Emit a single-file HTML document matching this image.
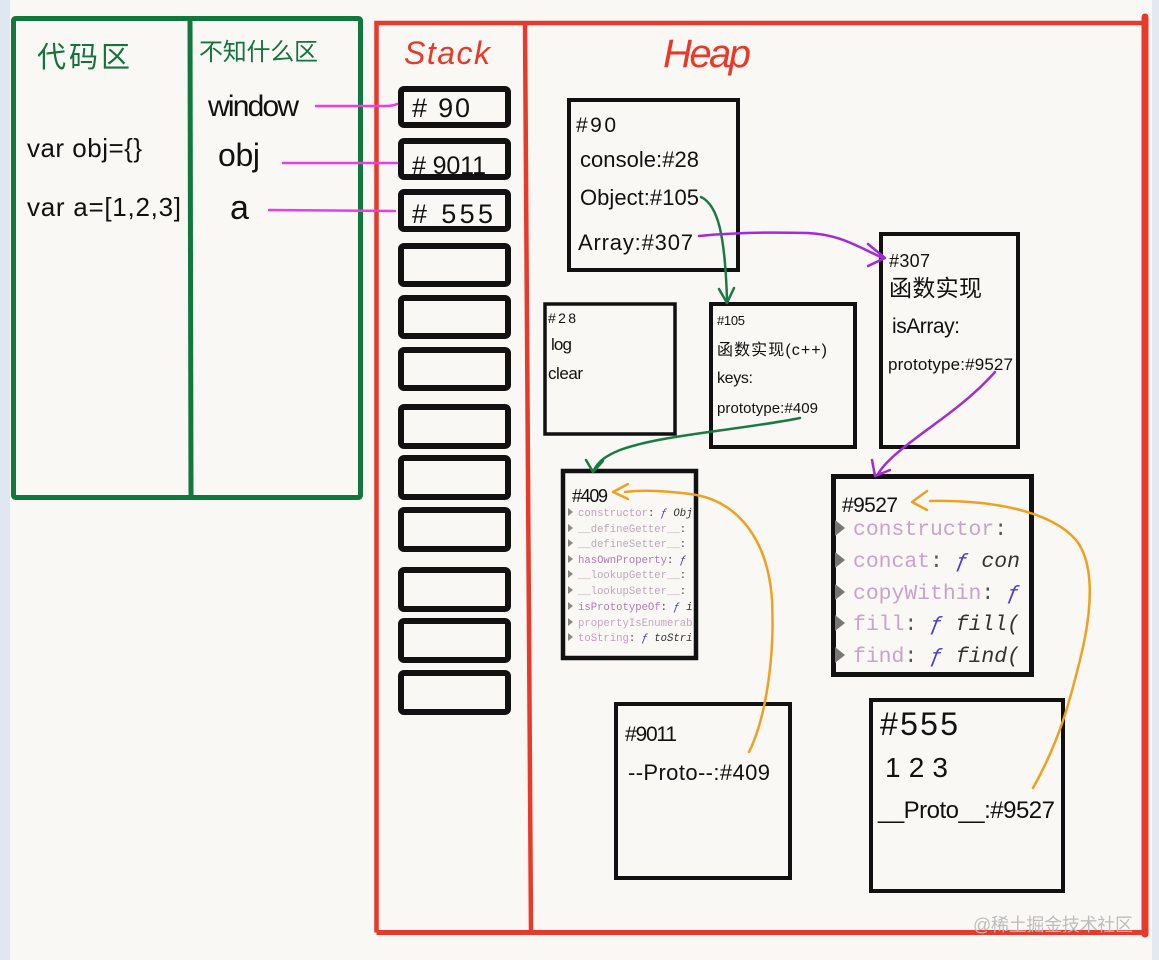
<!DOCTYPE html>
<html><head><meta charset="utf-8">
<style>
html,body{margin:0;padding:0;background:#f9f8f4;}
svg{display:block;}
text{font-family:"Liberation Sans","Noto Sans CJK SC",sans-serif;fill:#111;}
.m{font-family:"Liberation Mono","DejaVu Sans Mono",monospace;}
.cj{font-family:"Noto Sans CJK SC","WenQuanYi Zen Hei",sans-serif;}
</style></head><body>
<svg width="1159" height="960" viewBox="0 0 1159 960" xmlns="http://www.w3.org/2000/svg">
<defs>
<clipPath id="c409"><rect x="566" y="474" width="128" height="182"/></clipPath>
<clipPath id="c9527"><rect x="836" y="479" width="194" height="194"/></clipPath>
</defs>
<rect width="1159" height="960" fill="#f9f8f4"/>
<rect x="0" y="0" width="10" height="960" fill="#dfe7f0"/>
<rect x="1152" y="0" width="7" height="960" fill="#e3e9f0"/>

<!-- green frame -->
<g fill="none" stroke="#10773d" stroke-width="5">
<rect x="13.5" y="18.5" width="347" height="479" rx="2"/>
<line x1="190" y1="18" x2="191" y2="498"/>
</g>
<text x="37" y="67" font-size="29" textLength="93" style="fill:#14733c" class="cj">代码区</text>
<text x="199" y="60" font-size="24" textLength="119" style="fill:#14733c" class="cj">不知什么区</text>
<text x="27" y="157" font-size="26" textLength="115">var obj={}</text>
<text x="27" y="216" font-size="26" textLength="154">var a=[1,2,3]</text>
<text x="208" y="116" font-size="30" textLength="91">window</text>
<text x="218" y="166" font-size="32" textLength="42">obj</text>
<text x="230" y="219" font-size="34" textLength="23">a</text>

<!-- red frame -->
<g fill="none" stroke="#e8392a">
<path d="M376.5,932.5 L376.5,23 L1145,23" stroke-width="4.5"/>
<path d="M376.5,932.5 L1145,932.5" stroke-width="5"/>
<line x1="1145" y1="17" x2="1145" y2="934" stroke-width="7" stroke-linecap="round"/>
<line x1="525" y1="23" x2="531" y2="932" stroke-width="4.5"/>
</g>
<text x="404" y="64" font-size="32" textLength="86" font-style="italic" style="fill:#e8392a">Stack</text>
<text x="663" y="67" font-size="40" textLength="88" font-style="italic" style="fill:#e8392a">Heap</text>

<!-- stack boxes -->
<g fill="none" stroke="#111" stroke-width="6">
<rect x="401" y="89" width="107" height="36" rx="3"/>
<rect x="401" y="141" width="107" height="36" rx="3"/>
<rect x="401" y="192" width="107" height="37" rx="3"/>
<rect x="401" y="246" width="107" height="38" rx="3"/>
<rect x="401" y="298" width="107" height="38" rx="3"/>
<rect x="401" y="350" width="107" height="38" rx="3"/>
<rect x="401" y="407" width="107" height="39" rx="3"/>
<rect x="401" y="458" width="107" height="39" rx="3"/>
<rect x="401" y="510" width="107" height="39" rx="3"/>
<rect x="401" y="570" width="107" height="39" rx="3"/>
<rect x="401" y="621" width="107" height="39" rx="3"/>
<rect x="401" y="673" width="107" height="39" rx="3"/>
</g>
<text x="412" y="117" font-size="27" textLength="58"># 90</text>
<text x="412" y="174" font-size="25" textLength="74"># 9011</text>
<text x="412" y="223" font-size="27" textLength="81"># 555</text>

<!-- magenta connectors -->
<g fill="none" stroke="#ec3ee0" stroke-width="2.5" stroke-linecap="round">
<path d="M316,106 L385,106 Q393,106 397,104"/>
<path d="M283,163 L397,163"/>
<path d="M269,210 L395,211"/>
</g>

<!-- heap boxes -->
<g fill="none" stroke="#111" stroke-width="4">
<rect x="569" y="100" width="169" height="170"/>
<rect x="545" y="304" width="130" height="130" stroke-width="3.5"/>
<rect x="711" y="304" width="144" height="143"/>
<rect x="881" y="234" width="137" height="213"/>
<rect x="563" y="471" width="133" height="187" stroke-width="4.5"/>
<rect x="833.5" y="476.5" width="198" height="198" stroke-width="5"/>
<rect x="616" y="704" width="174" height="174"/>
<rect x="871" y="700" width="192" height="191"/>
</g>

<!-- #90 -->
<text x="576" y="132" font-size="21" textLength="40">#90</text>
<text x="580" y="167" font-size="22" textLength="119">console:#28</text>
<text x="580" y="205" font-size="22" textLength="119">Object:#105</text>
<text x="578" y="250" font-size="22" textLength="115">Array:#307</text>

<!-- #307 -->
<text x="889" y="267" font-size="18" textLength="41">#307</text>
<text x="889" y="296" font-size="23" textLength="93" class="cj">函数实现</text>
<text x="892" y="333" font-size="21" textLength="68">isArray:</text>
<text x="888" y="370" font-size="17" textLength="125">prototype:#9527</text>

<!-- #28 -->
<text x="548" y="323" font-size="14" textLength="28">#28</text>
<text x="551" y="350" font-size="17" textLength="21">log</text>
<text x="548" y="379" font-size="17" textLength="35">clear</text>

<!-- #105 -->
<text x="717" y="325" font-size="13" textLength="28">#105</text>
<text x="717" y="355" font-size="16" textLength="110">函数实现(c++)</text>
<text x="717" y="383" font-size="16" textLength="36">keys:</text>
<text x="717" y="413" font-size="15" textLength="101">prototype:#409</text>

<!-- #409 -->
<text x="572" y="502" font-size="18" textLength="36">#409</text>
<g fill="#888">
<polygon points="568,508 568,516 573,512"/>
<polygon points="568,524 568,532 573,528"/>
<polygon points="568,539 568,547 573,543"/>
<polygon points="568,555 568,563 573,559"/>
<polygon points="568,570 568,578 573,574"/>
<polygon points="568,586 568,594 573,590"/>
<polygon points="568,602 568,610 573,606"/>
<polygon points="568,618 568,626 573,622"/>
<polygon points="568,633 568,641 573,637"/>
</g>
<g clip-path="url(#c409)" font-size="10.6">
<text class="m" x="578" y="516"><tspan style="fill:#c79bc7">constructor</tspan><tspan style="fill:#444">: </tspan><tspan style="fill:#3c3ccc" font-style="italic">ƒ</tspan><tspan style="fill:#333" font-style="italic"> Obj</tspan></text>
<text class="m" x="578" y="532"><tspan style="fill:#bba8bb">__defineGetter__</tspan><tspan style="fill:#444">:</tspan></text>
<text class="m" x="578" y="547"><tspan style="fill:#bba8bb">__defineSetter__</tspan><tspan style="fill:#444">:</tspan></text>
<text class="m" x="578" y="563"><tspan style="fill:#b57ab5">hasOwnProperty</tspan><tspan style="fill:#444">: </tspan><tspan style="fill:#3c3ccc" font-style="italic">ƒ</tspan></text>
<text class="m" x="578" y="578"><tspan style="fill:#bba8bb">__lookupGetter__</tspan><tspan style="fill:#444">:</tspan></text>
<text class="m" x="578" y="594"><tspan style="fill:#bba8bb">__lookupSetter__</tspan><tspan style="fill:#444">:</tspan></text>
<text class="m" x="578" y="610"><tspan style="fill:#b57ab5">isPrototypeOf</tspan><tspan style="fill:#444">: </tspan><tspan style="fill:#3c3ccc" font-style="italic">ƒ</tspan><tspan style="fill:#333" font-style="italic"> i</tspan></text>
<text class="m" x="578" y="626"><tspan style="fill:#c4a4c4">propertyIsEnumerab</tspan></text>
<text class="m" x="578" y="641"><tspan style="fill:#c49cc4">toString</tspan><tspan style="fill:#444">: </tspan><tspan style="fill:#3c3ccc" font-style="italic">ƒ</tspan><tspan style="fill:#333" font-style="italic"> toStri</tspan></text>
</g>

<!-- #9527 -->
<text x="842" y="512" font-size="21" textLength="56">#9527</text>
<g fill="#777">
<polygon points="835,520 835,536 845,528"/>
<polygon points="835,552 835,568 845,560"/>
<polygon points="835,584 835,600 845,592"/>
<polygon points="835,615 835,631 845,623"/>
<polygon points="835,647 835,663 845,655"/>
</g>
<g clip-path="url(#c9527)" font-size="21.4">
<text class="m" x="853" y="535"><tspan style="fill:#c9a3c9">constructor</tspan><tspan style="fill:#555">:</tspan></text>
<text class="m" x="853" y="567"><tspan style="fill:#c9a3c9">concat</tspan><tspan style="fill:#555">: </tspan><tspan style="fill:#4b3fcf" font-style="italic">ƒ</tspan><tspan style="fill:#333" font-style="italic"> con</tspan></text>
<text class="m" x="853" y="599"><tspan style="fill:#c9a3c9">copyWithin</tspan><tspan style="fill:#555">: </tspan><tspan style="fill:#4b3fcf" font-style="italic">ƒ</tspan></text>
<text class="m" x="853" y="630"><tspan style="fill:#c9a3c9">fill</tspan><tspan style="fill:#555">: </tspan><tspan style="fill:#4b3fcf" font-style="italic">ƒ</tspan><tspan style="fill:#333" font-style="italic"> fill(</tspan></text>
<text class="m" x="853" y="662"><tspan style="fill:#c9a3c9">find</tspan><tspan style="fill:#555">: </tspan><tspan style="fill:#4b3fcf" font-style="italic">ƒ</tspan><tspan style="fill:#333" font-style="italic"> find(</tspan></text>
</g>

<!-- #9011 -->
<text x="625" y="741" font-size="21" textLength="52">#9011</text>
<text x="628" y="780" font-size="22" textLength="142">--Proto--:#409</text>
<!-- #555 -->
<text x="880" y="735" font-size="32" textLength="78">#555</text>
<text x="885" y="777" font-size="28" textLength="63">1 2 3</text>
<text x="878" y="818" font-size="24" textLength="177">__Proto__:#9527</text>

<!-- green arrows -->
<g fill="none" stroke="#1b7a44" stroke-width="2.5" stroke-linecap="round" stroke-linejoin="round">
<path d="M701,197 C718,205 725,235 727,300"/>
<path d="M719,289 L727,303 L734,288"/>
<path d="M800,418 C740,430 660,435 620,450 C605,456 598,462 594,470"/>
<path d="M586,460 L593,472 L603,461"/>
</g>
<!-- purple arrows -->
<g fill="none" stroke="#a22bd6" stroke-width="2.5" stroke-linecap="round" stroke-linejoin="round">
<path d="M699,236 C730,233 770,232 807,233 C840,234 860,248 883,258"/>
<path d="M868,244 L885,258 L868,266"/>
<path d="M995,372 C970,400 940,420 920,435 C900,450 885,462 878,474"/>
<path d="M872,460 L875,476 L890,470"/>
</g>
<!-- orange arrows -->
<g fill="none" stroke="#f0a020" stroke-width="2.5" stroke-linecap="round" stroke-linejoin="round">
<path d="M749,752 C765,720 775,660 772,600 C768,540 738,500 690,494 C660,490 640,490 625,492"/>
<path d="M628,484 L613,492 L628,499"/>
<path d="M1033,788 C1060,740 1070,700 1080,660 C1095,600 1092,560 1076,540 C1050,510 990,500 930,501"/>
<path d="M927,491 L912,502 L927,510"/>
</g>

<text x="973" y="931" font-size="18" textLength="160" style="fill:#bdbdbd">@稀土掘金技术社区</text>
</svg>
</body></html>
